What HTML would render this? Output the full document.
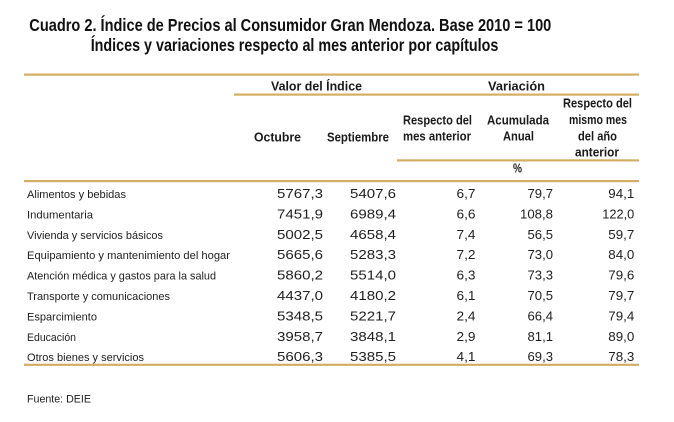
<!DOCTYPE html>
<html>
<head>
<meta charset="utf-8">
<style>
  html, body { margin: 0; padding: 0; background: #ffffff; }
  svg { display: block; }
  text { font-family: "Liberation Sans", "DejaVu Sans", sans-serif; fill: #1e1e1e; }
  .t { font-weight: bold; font-size: 17.5px; fill: #111; }
  .h { font-weight: bold; font-size: 12.5px; fill: #1a1a1a; }
  .l { font-size: 11.2px; }
  .n { font-size: 12.8px; }
</style>
</head>
<body>
<svg width="674" height="422" viewBox="0 0 674 422" xmlns="http://www.w3.org/2000/svg">
  <rect x="0" y="0" width="674" height="422" fill="#ffffff"/>

  <!-- Title -->
  <text class="t" x="29.3" y="31" textLength="522" lengthAdjust="spacingAndGlyphs">Cuadro 2. Índice de Precios al Consumidor Gran Mendoza. Base 2010 = 100</text>
  <text class="t" x="90.7" y="51" textLength="407.6" lengthAdjust="spacingAndGlyphs">Índices y variaciones respecto al mes anterior por capítulos</text>

  <!-- Rules -->
  <g fill="#d5ad62">
    <rect x="24" y="73.5" width="615" height="2.2"/>
    <rect x="234" y="93.5" width="405" height="2.2"/>
    <rect x="397" y="159.3" width="242" height="2.2"/>
    <rect x="24" y="180" width="615" height="2.2"/>
    <rect x="24" y="363.7" width="615" height="2.2"/>
  </g>

  <!-- Headers -->
  <text class="h" x="271" y="90.7" textLength="91" lengthAdjust="spacingAndGlyphs">Valor del Índice</text>
  <text class="h" x="488" y="90.7" textLength="57" lengthAdjust="spacingAndGlyphs">Variación</text>
  <text class="h" x="254" y="141.5" textLength="47" lengthAdjust="spacingAndGlyphs">Octubre</text>
  <text class="h" x="327" y="141.5" textLength="62" lengthAdjust="spacingAndGlyphs">Septiembre</text>
  <text class="h" x="403" y="124.3" textLength="69" lengthAdjust="spacingAndGlyphs">Respecto del</text>
  <text class="h" x="403" y="140.3" textLength="68" lengthAdjust="spacingAndGlyphs">mes anterior</text>
  <text class="h" x="487" y="124.3" textLength="62" lengthAdjust="spacingAndGlyphs">Acumulada</text>
  <text class="h" x="503" y="140.3" textLength="31" lengthAdjust="spacingAndGlyphs">Anual</text>
  <text class="h" x="563" y="107.7" textLength="69" lengthAdjust="spacingAndGlyphs">Respecto del</text>
  <text class="h" x="569" y="124" textLength="58" lengthAdjust="spacingAndGlyphs">mismo mes</text>
  <text class="h" x="578" y="140.3" textLength="39" lengthAdjust="spacingAndGlyphs">del año</text>
  <text class="h" x="575" y="156.7" textLength="44" lengthAdjust="spacingAndGlyphs">anterior</text>
  <text class="h" x="513" y="172.7" textLength="9" lengthAdjust="spacingAndGlyphs">%</text>

  <!-- Row labels -->
  <g>
    <text class="l" x="27" y="198" textLength="99" lengthAdjust="spacingAndGlyphs">Alimentos y bebidas</text>
    <text class="l" x="27" y="218.4" textLength="66" lengthAdjust="spacingAndGlyphs">Indumentaria</text>
    <text class="l" x="27" y="238.8" textLength="136" lengthAdjust="spacingAndGlyphs">Vivienda y servicios básicos</text>
    <text class="l" x="27" y="259.2" textLength="203" lengthAdjust="spacingAndGlyphs">Equipamiento y mantenimiento del hogar</text>
    <text class="l" x="27" y="279.6" textLength="189" lengthAdjust="spacingAndGlyphs">Atención médica y gastos para la salud</text>
    <text class="l" x="27" y="300" textLength="143" lengthAdjust="spacingAndGlyphs">Transporte y comunicaciones</text>
    <text class="l" x="27" y="320.4" textLength="70" lengthAdjust="spacingAndGlyphs">Esparcimiento</text>
    <text class="l" x="27" y="340.8" textLength="49" lengthAdjust="spacingAndGlyphs">Educación</text>
    <text class="l" x="27" y="361.2" textLength="117" lengthAdjust="spacingAndGlyphs">Otros bienes y servicios</text>
  </g>

  <g text-anchor="end">
    <!-- Octubre -->
    <text class="n" x="323" y="198" textLength="46" lengthAdjust="spacingAndGlyphs">5767,3</text>
    <text class="n" x="323" y="218.4" textLength="46" lengthAdjust="spacingAndGlyphs">7451,9</text>
    <text class="n" x="323" y="238.8" textLength="46" lengthAdjust="spacingAndGlyphs">5002,5</text>
    <text class="n" x="323" y="259.2" textLength="46" lengthAdjust="spacingAndGlyphs">5665,6</text>
    <text class="n" x="323" y="279.6" textLength="46" lengthAdjust="spacingAndGlyphs">5860,2</text>
    <text class="n" x="323" y="300" textLength="46" lengthAdjust="spacingAndGlyphs">4437,0</text>
    <text class="n" x="323" y="320.4" textLength="46" lengthAdjust="spacingAndGlyphs">5348,5</text>
    <text class="n" x="323" y="340.8" textLength="46" lengthAdjust="spacingAndGlyphs">3958,7</text>
    <text class="n" x="323" y="361.2" textLength="46" lengthAdjust="spacingAndGlyphs">5606,3</text>

    <!-- Septiembre -->
    <text class="n" x="396" y="198" textLength="46" lengthAdjust="spacingAndGlyphs">5407,6</text>
    <text class="n" x="396" y="218.4" textLength="46" lengthAdjust="spacingAndGlyphs">6989,4</text>
    <text class="n" x="396" y="238.8" textLength="46" lengthAdjust="spacingAndGlyphs">4658,4</text>
    <text class="n" x="396" y="259.2" textLength="46" lengthAdjust="spacingAndGlyphs">5283,3</text>
    <text class="n" x="396" y="279.6" textLength="46" lengthAdjust="spacingAndGlyphs">5514,0</text>
    <text class="n" x="396" y="300" textLength="46" lengthAdjust="spacingAndGlyphs">4180,2</text>
    <text class="n" x="396" y="320.4" textLength="46" lengthAdjust="spacingAndGlyphs">5221,7</text>
    <text class="n" x="396" y="340.8" textLength="46" lengthAdjust="spacingAndGlyphs">3848,1</text>
    <text class="n" x="396" y="361.2" textLength="46" lengthAdjust="spacingAndGlyphs">5385,5</text>

    <!-- Respecto del mes anterior -->
    <text class="n" x="475.5" y="198" textLength="19" lengthAdjust="spacingAndGlyphs">6,7</text>
    <text class="n" x="475.5" y="218.4" textLength="19" lengthAdjust="spacingAndGlyphs">6,6</text>
    <text class="n" x="475.5" y="238.8" textLength="19" lengthAdjust="spacingAndGlyphs">7,4</text>
    <text class="n" x="475.5" y="259.2" textLength="19" lengthAdjust="spacingAndGlyphs">7,2</text>
    <text class="n" x="475.5" y="279.6" textLength="19" lengthAdjust="spacingAndGlyphs">6,3</text>
    <text class="n" x="475.5" y="300" textLength="19" lengthAdjust="spacingAndGlyphs">6,1</text>
    <text class="n" x="475.5" y="320.4" textLength="19" lengthAdjust="spacingAndGlyphs">2,4</text>
    <text class="n" x="475.5" y="340.8" textLength="19" lengthAdjust="spacingAndGlyphs">2,9</text>
    <text class="n" x="475.5" y="361.2" textLength="19" lengthAdjust="spacingAndGlyphs">4,1</text>

    <!-- Acumulada Anual -->
    <text class="n" x="553" y="198" textLength="25.5" lengthAdjust="spacingAndGlyphs">79,7</text>
    <text class="n" x="553" y="218.4" textLength="33" lengthAdjust="spacingAndGlyphs">108,8</text>
    <text class="n" x="553" y="238.8" textLength="25.5" lengthAdjust="spacingAndGlyphs">56,5</text>
    <text class="n" x="553" y="259.2" textLength="25.5" lengthAdjust="spacingAndGlyphs">73,0</text>
    <text class="n" x="553" y="279.6" textLength="25.5" lengthAdjust="spacingAndGlyphs">73,3</text>
    <text class="n" x="553" y="300" textLength="25.5" lengthAdjust="spacingAndGlyphs">70,5</text>
    <text class="n" x="553" y="320.4" textLength="25.5" lengthAdjust="spacingAndGlyphs">66,4</text>
    <text class="n" x="553" y="340.8" textLength="25.5" lengthAdjust="spacingAndGlyphs">81,1</text>
    <text class="n" x="553" y="361.2" textLength="25.5" lengthAdjust="spacingAndGlyphs">69,3</text>

    <!-- Respecto del mismo mes del año anterior -->
    <text class="n" x="634.3" y="198" textLength="26" lengthAdjust="spacingAndGlyphs">94,1</text>
    <text class="n" x="634.3" y="218.4" textLength="32" lengthAdjust="spacingAndGlyphs">122,0</text>
    <text class="n" x="634.3" y="238.8" textLength="26" lengthAdjust="spacingAndGlyphs">59,7</text>
    <text class="n" x="634.3" y="259.2" textLength="26" lengthAdjust="spacingAndGlyphs">84,0</text>
    <text class="n" x="634.3" y="279.6" textLength="26" lengthAdjust="spacingAndGlyphs">79,6</text>
    <text class="n" x="634.3" y="300" textLength="26" lengthAdjust="spacingAndGlyphs">79,7</text>
    <text class="n" x="634.3" y="320.4" textLength="26" lengthAdjust="spacingAndGlyphs">79,4</text>
    <text class="n" x="634.3" y="340.8" textLength="26" lengthAdjust="spacingAndGlyphs">89,0</text>
    <text class="n" x="634.3" y="361.2" textLength="26" lengthAdjust="spacingAndGlyphs">78,3</text>
  </g>

  <!-- Source -->
  <text class="l" x="27" y="402.7" textLength="64" lengthAdjust="spacingAndGlyphs">Fuente: DEIE</text>
</svg>
</body>
</html>
